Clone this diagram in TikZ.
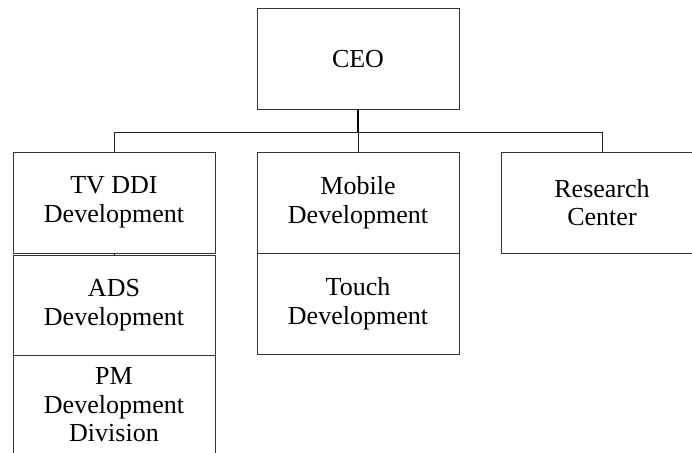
\documentclass[tikz,border=0pt]{standalone}
\usepackage{fontspec}
\setmainfont{Liberation Serif}
\begin{document}
\begin{tikzpicture}[x=1pt,y=-1pt,
  box/.style={draw=black!80, line width=0.9pt, rectangle, minimum width=202pt, minimum height=101pt, inner sep=0pt, align=center, font=\fontsize{26}{28.5}\selectfont},
  conn/.style={draw=black!85, line width=0.9pt},
  trunk/.style={draw=black, line width=1.4pt}]
\useasboundingbox (0,0) rectangle (692,452);
\clip (0,0) rectangle (692,452);
\node[box] (ceo) at (358,59) {CEO};
\node[box] (tv) at (114,202.5) {TV DDI\\Development};
\node[box, minimum height=100pt] (ads) at (114,305) {ADS\\Development};
\node[box, minimum height=100pt] (pm) at (114,405) {PM\\Development\\Division};
\node[box] (mob) at (358,202.5) {Mobile\\Development};
\node[box] (touch) at (358,303.5) {Touch\\Development};
\node[box] (rc) at (602,202.5) {Research\\Center};
\draw[trunk] (ceo.south) -- ++(0,22) coordinate (j);
\draw[conn] (j) -| (tv.north);
\draw[conn] (j) -| (rc.north);
\draw[conn] (j) -- (mob.north);
\draw[conn] (tv.south) -- (ads.north);
\end{tikzpicture}
\end{document}
